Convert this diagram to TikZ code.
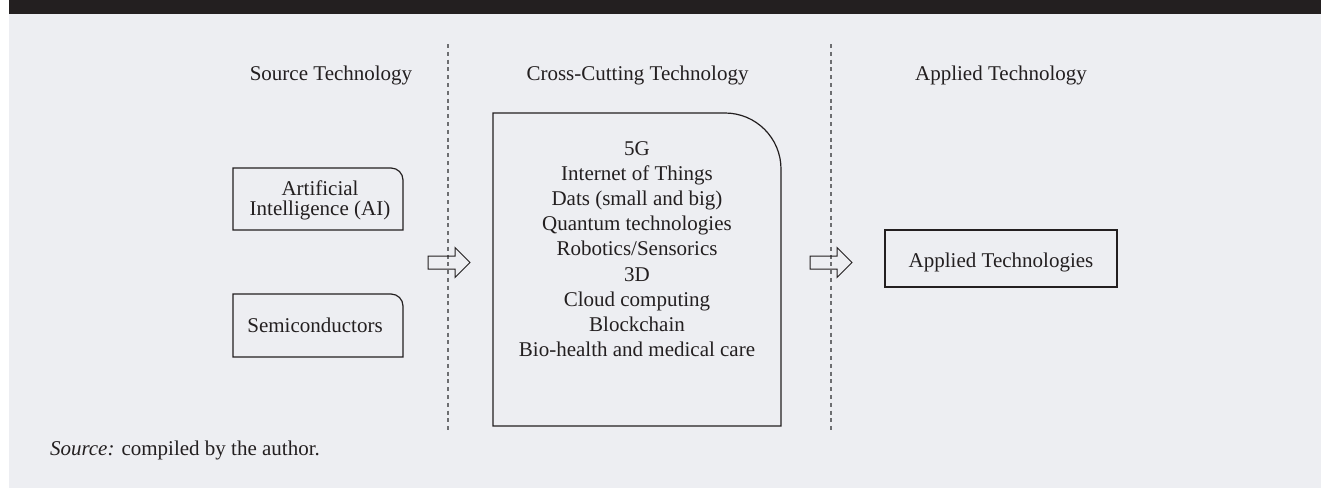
\documentclass[tikz,border=0pt]{standalone}
\usepackage{fontspec}
\setmainfont{Liberation Serif}
\definecolor{panel}{HTML}{EDEEF2}
\definecolor{banner}{HTML}{231F20}
\definecolor{ink}{HTML}{231F20}
\definecolor{divcol}{HTML}{6D6E71}
\begin{document}
\begin{tikzpicture}[x=0.5pt,y=-0.5pt,
  every node/.style={inner sep=0pt, outer sep=0pt, text=ink,
    font=\fontsize{10.5}{12.6}\selectfont},
  boxarea/.style={minimum width=#1, draw=none},
  frame/.style={draw=ink, line width=0.6pt},
  divider/.style={draw=divcol, line width=0.75pt, dash pattern=on 2pt off 1.9pt},
  blockarrow/.style={draw=ink, line width=0.5pt, line join=miter},
]
% page, panel and top band
\useasboundingbox (0,0) rectangle (1321,488);
\fill[white] (0,0) rectangle (1321,488);
\fill[panel] (9,0) rectangle (1321,488);
\fill[banner] (9,0) rectangle (1321,14);

% column headings
\node[anchor=base] (hsrc) at (331,80) {Source Technology};
\node[anchor=base] (hcross) at (637.5,80) {Cross-Cutting Technology};
\node[anchor=base] (happ) at (1001,80) {Applied Technology};

% column dividers
\coordinate (d1top) at (448,44);
\coordinate (d1bot) at (448,432);
\coordinate (d2top) at (831,44);
\coordinate (d2bot) at (831,432);
\draw[divider] (d1top) -- (d1bot);
\draw[divider] (d2top) -- (d2bot);

% source technologies
\node[minimum width=85pt, minimum height=31pt] (ai) at (318,199) {};
\draw[frame] (ai.south west) -- (ai.north west) -- ([xshift=-6pt]ai.north east)
  arc[start angle=90, end angle=0, radius=6pt] -- (ai.south east) -- cycle;
\node[align=center, font=\fontsize{10.5}{10}\selectfont] (aitext) at (320,200)
  {Artificial\\Intelligence (AI)};

\node[minimum width=85pt, minimum height=31.5pt] (semi) at (318,325.5) {};
\draw[frame] (semi.south west) -- (semi.north west) -- ([xshift=-6pt]semi.north east)
  arc[start angle=90, end angle=0, radius=6pt] -- (semi.south east) -- cycle;
\node[anchor=base] (semitext) at (315,332) {Semiconductors};

% cross-cutting technologies
\node[minimum width=144pt, minimum height=156.5pt] (cross) at (637,269.5) {};
\draw[frame] (cross.south west) -- (cross.north west) -- ([xshift=-28pt]cross.north east)
  arc[start angle=90, end angle=0, radius=28pt] -- (cross.south east) -- cycle;
\node[align=center] (crosslist) at (637,249)
  {5G\\Internet of Things\\Dats (small and big)\\Quantum technologies\\
   Robotics/Sensorics\\3D\\Cloud computing\\Blockchain\\Bio-health and medical care};

% applied technologies
\node[minimum width=116pt, minimum height=28.5pt] (applied) at (1001,258.5) {};
\draw[frame] (applied.south west) rectangle (applied.north east);
\node[anchor=base] (appliedtext) at (1001,267) {Applied Technologies};

% hollow block arrows between the columns
\coordinate (a1) at (428,262.5);
\coordinate (a2) at (810,262.5);
\foreach \s in {a1,a2}{
  \draw[blockarrow] (\s) ++(0,-6.5) -- ++(27,0) -- ++(0,-8.5) -- ++(15,15)
    -- ++(-15,15) -- ++(0,-8.5) -- ++(-27,0) -- cycle;
}

% source note
\node[anchor=base west] (note) at (50,455) {\textit{Source:} compiled by the author.};
\end{tikzpicture}
\end{document}
